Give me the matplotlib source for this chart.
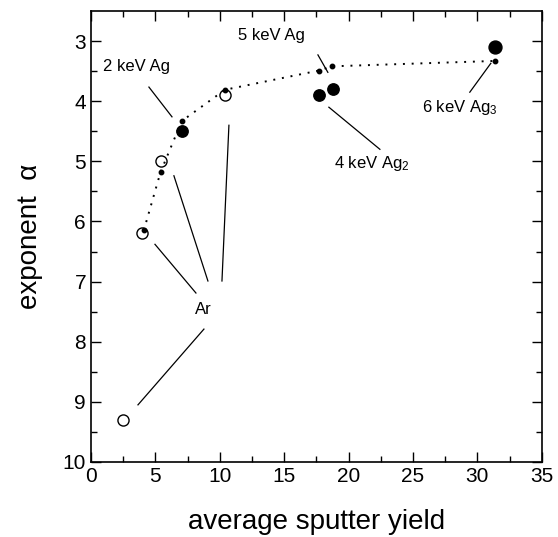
import matplotlib
matplotlib.use("Agg")
import matplotlib.pyplot as plt

plt.rcParams['font.family'] = ['Liberation Sans', 'DejaVu Sans']
plt.rcParams['mathtext.fontset'] = 'custom'
plt.rcParams['mathtext.rm'] = 'Liberation Sans'
plt.rcParams['mathtext.it'] = 'Liberation Sans:italic'
plt.rcParams['mathtext.default'] = 'regular'

# Data
ar_yield = [2.5, 4.0, 5.4, 10.4]
ar_alpha = [9.3, 6.2, 5.0, 3.9]

ag_yield = [7.1, 17.7, 18.8, 31.4]
ag_alpha = [4.5, 3.9, 3.8, 3.1]

fit_yield = [4.1, 5.4, 7.05, 10.4, 17.7, 18.7, 31.4]
fit_alpha = [6.15, 5.18, 4.33, 3.81, 3.49, 3.42, 3.33]

labels = ["2 keV Ag", "5 keV Ag", "4 keV Ag$_2$", "6 keV Ag$_3$", "Ar"]
label_pos = [(0.95, 3.42), (11.4, 2.9), (18.9, 5.03), (25.7, 4.11), (8.7, 7.47)]
label_ha = ["left", "left", "left", "left", "center"]

leader_lines = [
    ((4.50, 3.765), (6.29, 4.26)),
    ((17.62, 3.23), (18.39, 3.52)),
    ((18.47, 4.10), (22.43, 4.80)),
    ((29.41, 3.85), (31.04, 3.37)),
    ((4.97, 6.38), (8.15, 7.19)),
    ((6.44, 5.24), (9.08, 6.99)),
    ((10.71, 4.40), (10.17, 6.99)),
    ((8.77, 7.79), (3.65, 9.05)),
]

fig = plt.figure(figsize=(5.58, 5.37), dpi=100)
ax = fig.add_axes([0.163, 0.1397, 0.808, 0.8398])

ax.plot(fit_yield, fit_alpha, linestyle=(0, (1, 3.5)), color='black', linewidth=1.4,
        marker='o', markersize=3.2, markerfacecolor='black', markeredgecolor='black', zorder=3)
ax.plot(ar_yield, ar_alpha, linestyle='none', marker='o', markersize=8,
        markerfacecolor='white', markeredgecolor='black', markeredgewidth=1.0, zorder=2)
ax.plot(ag_yield[:3], ag_alpha[:3], linestyle='none', marker='o', markersize=8.2,
        color='black', zorder=2)
ax.plot(ag_yield[3:], ag_alpha[3:], linestyle='none', marker='o', markersize=9.3,
        color='black', zorder=2)

for (p0, p1) in leader_lines:
    ax.plot([p0[0], p1[0]], [p0[1], p1[1]], color='black', linewidth=0.9)

for txt, (x, y), ha in zip(labels, label_pos, label_ha):
    ax.text(x, y, txt, fontsize=12, ha=ha, va='center')

ax.set_xlim(0, 35)
ax.set_ylim(10, 2.5)
ax.set_xticks([0, 5, 10, 15, 20, 25, 30, 35])
ax.set_yticks([3, 4, 5, 6, 7, 8, 9, 10])
ax.set_xticks([2.5, 7.5, 12.5, 17.5, 22.5, 27.5, 32.5], minor=True)
ax.set_yticks([3.5, 4.5, 5.5, 6.5, 7.5, 8.5, 9.5], minor=True)
ax.tick_params(which='both', direction='in', top=True, right=True, labelsize=15, width=1.0)
ax.tick_params(which='major', length=7)
ax.tick_params(which='minor', length=4)
for s in ax.spines.values():
    s.set_linewidth(1.2)

ax.set_xlabel("average sputter yield", fontsize=20, labelpad=17)
ax.set_ylabel("exponent  \u03b1", fontsize=20, labelpad=14)

fig.savefig("out.png", dpi=100)
